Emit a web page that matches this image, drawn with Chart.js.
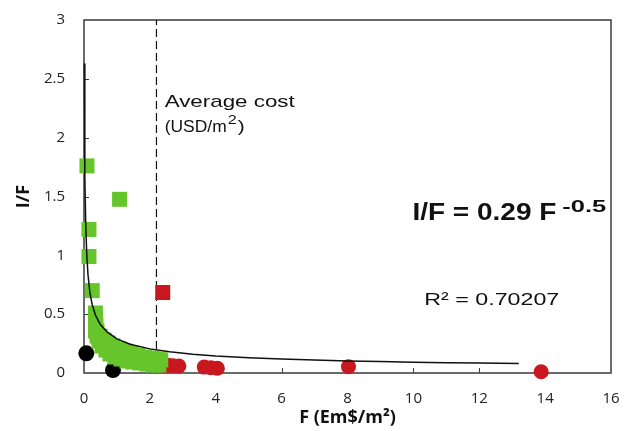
<!DOCTYPE html>
<html><head><meta charset="utf-8">
<script src="https://cdn.jsdelivr.net/npm/chart.js@4/dist/chart.umd.min.js"></script>
<style>html,body{margin:0;padding:0;background:#fff}canvas{display:block}</style>
</head><body>
<canvas id="c" width="624" height="431"></canvas>
<script>
// ---- data ----
const xTickValues = [0, 2, 4, 6, 8, 10, 12, 14, 16];
const xTickLabels = ['0', '2', '4', '6', '8', '10', '12', '14', '16'];
const yTickValues = [0, 0.5, 1, 1.5, 2, 2.5, 3];
const yTickLabels = ['0', '0.5', '1', '1.5', '2', '2.5', '3'];

// power-law fit line I/F = 0.29 F^-0.5
const fitX = [0.012, 0.02, 0.03, 0.05, 0.08, 0.12, 0.18, 0.25, 0.35, 0.5, 0.7, 1.0, 1.4, 2.0, 2.6, 3.3, 4.0, 5.0, 6.0, 7.0, 8.0, 9.0, 10.0, 11.0, 12.0, 13.2];
const fitY = [2.63, 2.05, 1.67, 1.3, 1.03, 0.84, 0.68, 0.58, 0.49, 0.41, 0.35, 0.29, 0.245, 0.205, 0.18, 0.16, 0.145, 0.13, 0.118, 0.11, 0.102, 0.097, 0.092, 0.087, 0.084, 0.08];

// green squares (isolated + dense band)
const greenX = [0.09, 1.08, 0.15, 0.15, 0.25,
  0.348, 0.348, 0.364, 0.394, 0.485, 0.606, 0.727, 0.879, 1.061, 1.242, 1.424, 1.636, 1.848, 2.061, 2.242, 2.33,
  0.348, 0.394, 0.455, 0.545, 0.667, 0.788, 0.939, 1.121, 1.303, 1.485, 1.697, 1.909, 2.091, 2.273];
const greenY = [1.76, 1.476, 1.22, 0.99, 0.70,
  0.510, 0.459, 0.408, 0.357, 0.314, 0.280, 0.255, 0.229, 0.204, 0.187, 0.170, 0.153, 0.136, 0.127, 0.119, 0.112,
  0.357, 0.314, 0.272, 0.229, 0.195, 0.161, 0.136, 0.119, 0.102, 0.093, 0.085, 0.076, 0.068, 0.068];

// red square
const redSqX = [2.39];
const redSqY = [0.684];

// red circles
const redX = [2.41, 2.55, 2.7, 2.88, 3.65, 3.85, 4.05, 8.03, 13.88];
const redY = [0.065, 0.065, 0.062, 0.06, 0.05, 0.045, 0.04, 0.054, 0.011];

// black circles
const blackX = [0.07, 0.88];
const blackY = [0.167, 0.025];

// average cost vertical reference
const avgCostX = 2.2;

const GREEN = '#66c52b';
const RED = '#c8171f';
const AXIS = '#3a3a3a';

const pts = (xs, ys) => xs.map((x, i) => ({x: x, y: ys[i]}));

const framePlugin = {
  id: 'frame',
  beforeDatasetsDraw(chart) {
    const {ctx, chartArea: a, scales} = chart;
    ctx.save();
    ctx.strokeStyle = AXIS;
    ctx.lineWidth = 1.5;
    ctx.strokeRect(a.left, a.top, a.right - a.left, a.bottom - a.top);
    ctx.lineWidth = 1;
    ctx.beginPath();
    xTickValues.slice(1, -1).forEach(v => {
      const px = Math.round(scales.x.getPixelForValue(v)) + 0.5;
      ctx.moveTo(px, a.bottom); ctx.lineTo(px, a.bottom - 5);
    });
    yTickValues.slice(1, -1).forEach(v => {
      const py = Math.round(scales.y.getPixelForValue(v)) + 0.5;
      ctx.moveTo(a.left, py); ctx.lineTo(a.left + 5, py);
    });
    ctx.stroke();
    ctx.restore();
  },
  afterDraw(chart) {
    const {ctx, scales} = chart;
    const X = v => scales.x.getPixelForValue(v);
    const Y = v => scales.y.getPixelForValue(v);
    function fit(text, x, y, font, w) {
      ctx.font = font;
      const m = ctx.measureText(text).width;
      ctx.save();
      ctx.translate(x, y);
      ctx.scale(w / m, 1);
      ctx.fillText(text, 0, 0);
      ctx.restore();
    }
    ctx.save();
    ctx.fillStyle = '#111';
    ctx.textBaseline = 'alphabetic';
    ctx.textAlign = 'left';
    // Average cost label
    fit('Average cost', X(2.45), Y(2.26), '17px "Liberation Sans"', 130);
    fit('(USD/m', X(2.45), Y(2.048), '17px "Liberation Sans"', 62);
    fit('2', X(2.45) + 63, Y(2.048) - 8, '13px "Liberation Sans"', 9);
    fit(')', X(2.45) + 73, Y(2.048), '17px "Liberation Sans"', 7);
    // equation
    fit('I/F = 0.29 F', X(9.97), Y(1.30), 'bold 23px "Liberation Sans"', 144);
    fit('-0.5', X(14.52), Y(1.368), 'bold 17px "Liberation Sans"', 44);
    // R squared
    fit('R\u00b2 = 0.70207', X(10.33), Y(0.578), '17px "Liberation Sans"', 135);
    ctx.restore();
  }
};

new Chart(document.getElementById('c'), {
  type: 'scatter',
  data: {
    datasets: [
      {
        label: 'fit', data: pts(fitX, fitY), showLine: true, pointRadius: 0,
        borderColor: '#111', borderWidth: 1.5, order: 0, clip: false
      },
      {
        label: 'average cost', data: [{x: avgCostX, y: 0}, {x: avgCostX, y: 3}], showLine: true,
        pointRadius: 0, borderColor: '#111', borderWidth: 1.2, borderDash: [8, 4], order: 5, clip: false
      },
      {
        label: 'green', data: pts(greenX, greenY), pointStyle: 'rect', pointRadius: 10.6,
        backgroundColor: GREEN, borderWidth: 0, order: 2, clip: false
      },
      {
        label: 'red square', data: pts(redSqX, redSqY), pointStyle: 'rect', pointRadius: 10.6,
        backgroundColor: RED, borderWidth: 0, order: 2, clip: false
      },
      {
        label: 'red', data: pts(redX, redY), pointStyle: 'circle', pointRadius: 7.5,
        backgroundColor: RED, borderWidth: 0, order: 2, clip: false
      },
      {
        label: 'black', data: pts(blackX, blackY), pointStyle: 'circle', pointRadius: 8,
        backgroundColor: '#000', borderWidth: 0, order: 2, clip: false
      }
    ]
  },
  options: {
    responsive: false,
    devicePixelRatio: 1,
    animation: false,
    events: [],
    layout: {padding: {top: 20, right: 13, left: 0, bottom: 0}},
    plugins: {legend: {display: false}, tooltip: {enabled: false}},
    scales: {
      x: {
        type: 'linear', min: 0, max: 16,
        afterBuildTicks: s => { s.ticks = xTickValues.map(v => ({value: v})); },
        afterFit: s => { s.height = 58; s.paddingLeft = 0; s.paddingRight = 0; s.paddingTop = 0; s.paddingBottom = 0; },
        ticks: {
          callback: (v, i) => xTickLabels[i], color: '#222', padding: 17,
          font: {family: '"Open Sans"', size: 15}, maxRotation: 0
        },
        grid: {display: false, drawTicks: false},
        border: {display: false},
        title: {
          display: true, text: 'F (Em$/m\u00b2)', color: '#111',
          font: {family: '"Open Sans"', size: 18, weight: 'bold'}, padding: {top: 0, bottom: 2}
        }
      },
      y: {
        type: 'linear', min: 0, max: 3,
        afterBuildTicks: s => { s.ticks = yTickValues.map(v => ({value: v})); },
        afterFit: s => { s.width = 84; s.paddingLeft = 0; s.paddingRight = 0; s.paddingTop = 0; s.paddingBottom = 0; },
        ticks: {
          callback: (v, i) => yTickLabels[i], color: '#222', padding: 19,
          font: {family: '"Open Sans"', size: 15}
        },
        grid: {display: false, drawTicks: false},
        border: {display: false},
        title: {
          display: true, text: 'I/F', color: '#111',
          font: {family: '"Open Sans"', size: 18, weight: 'bold'}, padding: {top: 13, bottom: 0}
        }
      }
    }
  },
  plugins: [framePlugin]
});
</script>
</body></html>
